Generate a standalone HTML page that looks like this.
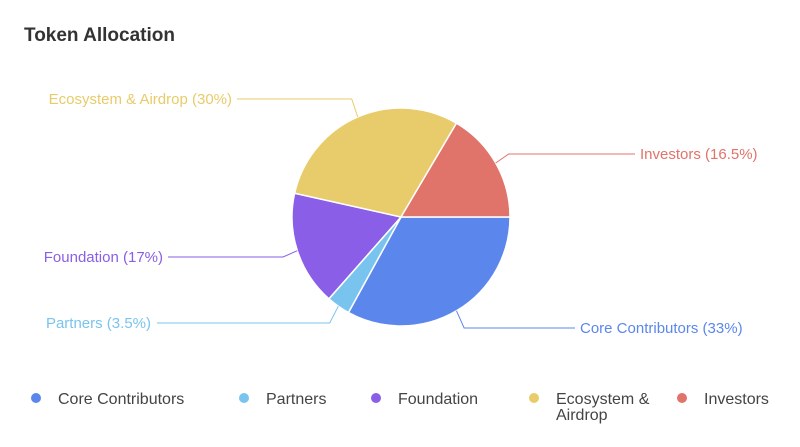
<!DOCTYPE html>
<html><head><meta charset="utf-8"><style>
body{margin:0;background:#fff;font-family:"Liberation Sans",sans-serif}
#c{position:relative;width:800px;height:442px}
</style></head><body>
<div id="c">
<svg id="s" width="800" height="442">
<text x="24" y="41" font-size="19" font-weight="bold" fill="#333">Token Allocation</text>
<g id="slices"></g><g id="labels"></g><g id="legend"></g>
</svg>
</div>
<script>
const categories=["Core Contributors","Partners","Foundation","Ecosystem & Airdrop","Investors"];
const values=[33,3.5,17,30,16.5];
const colors=["#5b87ec","#79c4ee","#8a5ee6","#e8cb6a","#e0736a"];
const labelPos=[[580,328,"start",575],[151,323,"end",157],[163,257,"end",168],[232,99,"end",237],[640,154,"start",635]];
const legendX=[30,238,370,528,676];
const cx=401,cy=217,r=109;
const NS="http://www.w3.org/2000/svg";
const total=values.reduce((a,b)=>a+b,0);
const sl=document.getElementById('slices'),lb=document.getElementById('labels'),lg=document.getElementById('legend');
let a=0;
function pt(ang,rad){return [cx+rad*Math.cos(ang),cy+rad*Math.sin(ang)];}
values.forEach((v,i)=>{
 const a0=a,a1=a+v/total*2*Math.PI;a=a1;
 const p0=pt(a0,r),p1=pt(a1,r);
 const p=document.createElementNS(NS,'path');
 p.setAttribute('d',`M${cx},${cy}L${p0[0]},${p0[1]}A${r},${r} 0 ${a1-a0>Math.PI?1:0} 1 ${p1[0]},${p1[1]}Z`);
 p.setAttribute('fill',colors[i]);p.setAttribute('stroke','#fff');p.setAttribute('stroke-width','1.5');
 
 
 sl.appendChild(p);
 const m=(a0+a1)/2,e=pt(m,r),e2=pt(m,r+15),L=labelPos[i];
 const pl=document.createElementNS(NS,'polyline');
 pl.setAttribute('points',`${e[0]},${e[1]} ${e2[0]},${L[1]} ${L[3]},${L[1]}`);
 pl.setAttribute('fill','none');pl.setAttribute('stroke',colors[i]);pl.setAttribute('stroke-width','1');
 
 
 lb.appendChild(pl);
 const t=document.createElementNS(NS,'text');
 t.setAttribute('x',L[0]);t.setAttribute('y',L[1]+5);t.setAttribute('text-anchor',L[2]);
 t.setAttribute('font-size','15');t.setAttribute('fill',colors[i]);
 t.textContent=categories[i]+' ('+v+'%)';
 
 
 lb.appendChild(t);
 const g=document.createElementNS(NS,'g');
 
 
 const c=document.createElementNS(NS,'circle');
 c.setAttribute('cx',legendX[i]+6);c.setAttribute('cy',398);c.setAttribute('r',5);c.setAttribute('fill',colors[i]);
 g.appendChild(c);
 const words=categories[i]==="Ecosystem & Airdrop"?["Ecosystem &","Airdrop"]:[categories[i]];
 words.forEach((w,j)=>{const tt=document.createElementNS(NS,'text');
  tt.setAttribute('x',legendX[i]+28);tt.setAttribute('y',404+j*16);tt.setAttribute('font-size','16');tt.setAttribute('fill','#444');
  tt.textContent=w;g.appendChild(tt);});
 lg.appendChild(g);
});
</script>
</body></html>
